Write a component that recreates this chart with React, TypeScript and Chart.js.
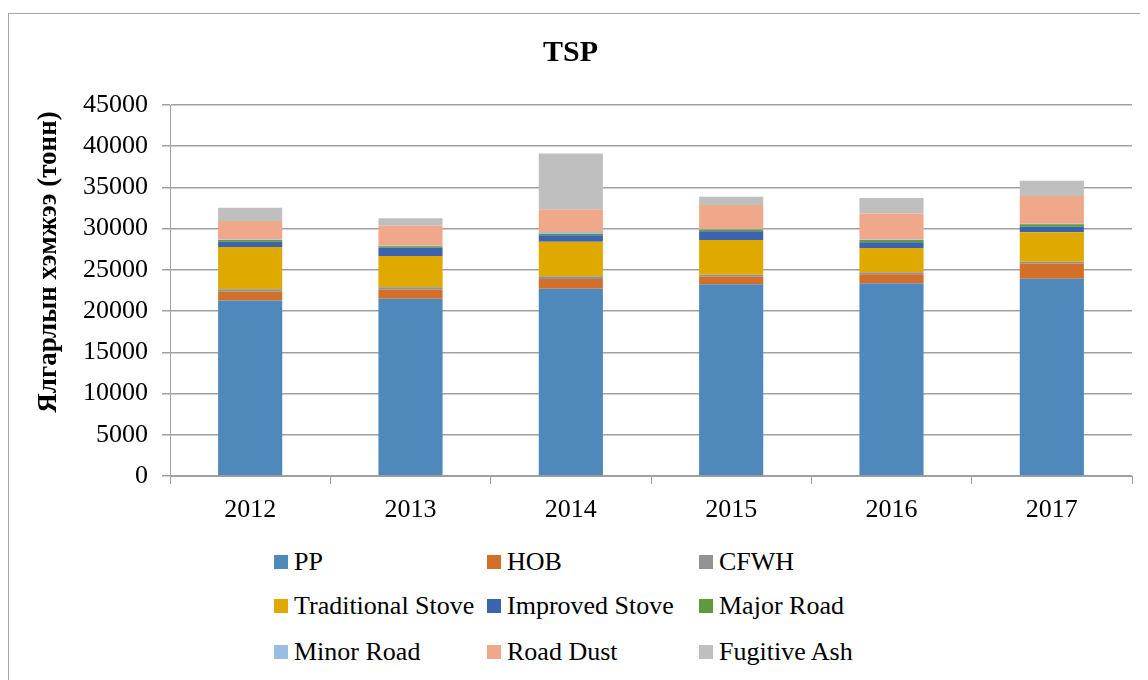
import React, { useEffect, useRef } from "react";
import { Chart, registerables } from "chart.js";

Chart.register(...registerables);

const years = ["2012", "2013", "2014", "2015", "2016", "2017"];
const seriesNames = [
  "PP",
  "HOB",
  "CFWH",
  "Traditional Stove",
  "Improved Stove",
  "Major Road",
  "Minor Road",
  "Road Dust",
  "Fugitive Ash",
];
const pp = [21300, 21500, 22700, 23250, 23370, 23930];
const hob = [1050, 1090, 1210, 920, 1090, 1820];
const cfwh = [290, 290, 330, 240, 240, 240];
const traditionalStove = [5130, 3800, 4160, 4210, 2950, 3565];
const improvedStove = [640, 1010, 810, 1055, 690, 680];
const majorRoad = [230, 190, 180, 220, 300, 300];
const minorRoad = [60, 50, 220, 60, 60, 60];
const roadDust = [2220, 2430, 2750, 2910, 3150, 3360];
const fugitiveAsh = [1610, 900, 6760, 1010, 1860, 1860];
const yTicks = [0, 5000, 10000, 15000, 20000, 25000, 30000, 35000, 40000, 45000];

const seriesValues = [
  pp,
  hob,
  cfwh,
  traditionalStove,
  improvedStove,
  majorRoad,
  minorRoad,
  roadDust,
  fugitiveAsh,
];
const colors = [
  "#4f88bb",
  "#d46f2a",
  "#939393",
  "#e0a900",
  "#3c63ad",
  "#5f9a3b",
  "#9bbde2",
  "#f0a88a",
  "#bfbfbf",
];

const SERIF = "'Liberation Serif', 'Times New Roman', serif";
const GRID = "#a0a0a0";

export default function App() {
  const ref = useRef<HTMLCanvasElement | null>(null);

  useEffect(() => {
    if (!ref.current) return;
    const yTitlePlugin = {
      id: "yTitle",
      afterDraw(chart: any) {
        const ctx = chart.ctx;
        ctx.save();
        ctx.translate(40, 248);
        ctx.rotate(-Math.PI / 2);
        ctx.font = "bold 27px " + SERIF;
        ctx.fillStyle = "#000";
        ctx.textAlign = "center";
        ctx.textBaseline = "middle";
        ctx.fillText("Ялгарлын хэмжээ (тонн)", 0, 0);
        ctx.restore();
      },
    };
    const chart = new Chart(ref.current, {
      type: "bar",
      data: {
        labels: years,
        datasets: seriesNames.map((name, i) => ({
          label: name,
          data: seriesValues[i],
          backgroundColor: colors[i],
          borderWidth: 0,
          barPercentage: 0.4,
          categoryPercentage: 1,
        })),
      },
      options: {
        responsive: false,
        animation: false,
        devicePixelRatio: 1,
        layout: { padding: { left: 0, right: 16, top: 0, bottom: 0 } },
        plugins: {
          legend: { display: false },
          tooltip: { enabled: false },
          title: {
            display: true,
            text: "TSP",
            color: "#000",
            font: { family: SERIF, size: 30, weight: "bold", lineHeight: 1.2 },
            padding: { top: 21, bottom: 34 },
          },
        },
        scales: {
          x: {
            stacked: true,
            grid: {
              offset: true,
              drawOnChartArea: false,
              drawTicks: true,
              tickLength: 8,
              color: GRID,
              lineWidth: 1,
            },
            border: { display: true, color: GRID, width: 1 },
            ticks: {
              color: "#000",
              font: { family: SERIF, size: 26 },
              padding: 11,
            },
            afterFit(scale: any) {
              scale.height = 58;
            },
          },
          y: {
            stacked: true,
            min: 0,
            max: 45000,
            afterBuildTicks(scale: any) {
              scale.ticks = yTicks.map((v) => ({ value: v }));
            },
            grid: {
              color: GRID,
              lineWidth: 1.5,
              drawTicks: true,
              tickLength: 8,
            },
            border: { display: true, color: GRID, width: 1 },
            ticks: {
              color: "#000",
              font: { family: SERIF, size: 26 },
              padding: 14,
              callback: (v: any) => String(v),
            },
            afterFit(scale: any) {
              scale.width = 161;
            },
          },
        },
      },
      plugins: [yTitlePlugin],
    });
    return () => chart.destroy();
  }, []);

  const legendCols = [265, 478, 690];
  const legendRows = [548, 592, 638];

  return (
    <div
      style={{
        position: "relative",
        marginTop: 5,
        width: 1139,
        height: 666,
        borderTop: "1px solid #a6a6a6",
        borderLeft: "1px solid #a6a6a6",
        background: "#fff",
      }}
    >
      <canvas ref={ref} width={1139} height={520} style={{ display: "block" }} />
      {seriesNames.map((name, i) => (
        <div
          key={name}
          style={{
            position: "absolute",
            left: legendCols[i % 3],
            top: legendRows[Math.floor(i / 3)] - 16,
            height: 32,
            display: "flex",
            alignItems: "center",
            fontFamily: SERIF,
            fontSize: 26,
            lineHeight: "32px",
            color: "#000",
            whiteSpace: "nowrap",
          }}
        >
          <span
            style={{
              display: "inline-block",
              width: 14,
              height: 14,
              background: colors[i],
              marginRight: 6,
            }}
          />
          <span>{name}</span>
        </div>
      ))}
    </div>
  );
}
